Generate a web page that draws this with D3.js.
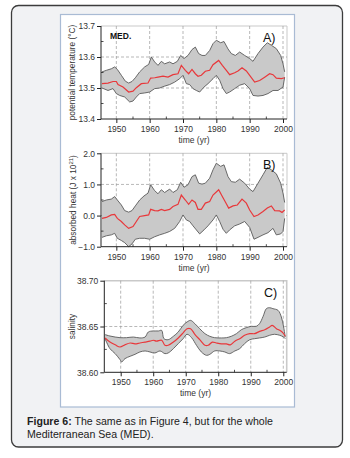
<!DOCTYPE html>
<html><head><meta charset="utf-8">
<script src="https://cdn.jsdelivr.net/npm/d3@7"></script>
<style>body{margin:0;background:#fff}svg{display:block;font-family:"Liberation Sans",Arial,sans-serif}</style>
</head><body><svg id="c" width="350" height="458"></svg>
<script>
// ---------- Panel A: potential temperature (°C) ----------
const tempMeanYears = [1945.7,1947.5,1949,1950,1950.5,1952,1953.7,1955,1956,1957.5,1959.5,1960.3,1961.5,1962.5,1964,1965.5,1967,1968.5,1969.5,1970.7,1971.7,1972.7,1973.7,1974.5,1975.5,1976.7,1978,1979,1980.7,1981.8,1983,1984,1985.5,1986.5,1987.7,1989,1990,1991.5,1993,1994.5,1996,1997,1998,1999.5,2000.5];
const tempMean = [13.514,13.516,13.521,13.521,13.511,13.503,13.487,13.49,13.501,13.514,13.516,13.532,13.533,13.535,13.538,13.535,13.543,13.546,13.573,13.557,13.546,13.56,13.546,13.538,13.541,13.554,13.557,13.575,13.589,13.573,13.557,13.543,13.549,13.555,13.565,13.555,13.541,13.519,13.524,13.535,13.546,13.543,13.532,13.53,13.533];
const tempUpperYears = [1945.7,1947,1948.5,1949.5,1950.3,1951.5,1952.7,1953.7,1954.7,1955.7,1957,1958.5,1959.7,1960.5,1961.5,1962.5,1963.5,1964.5,1966,1967,1968.3,1969.3,1970.3,1971.5,1972.7,1973.7,1974.7,1975.7,1976.7,1978,1979,1980,1981.3,1982.3,1983.5,1984.5,1985.7,1987,1988.5,1990,1991,1992.5,1994,1995.3,1996.5,1998,1999.3,2000,2000.5];
const tempUpper = [13.552,13.557,13.562,13.568,13.56,13.541,13.522,13.516,13.521,13.533,13.552,13.568,13.576,13.6,13.584,13.573,13.586,13.578,13.584,13.578,13.586,13.605,13.595,13.605,13.624,13.632,13.611,13.605,13.605,13.621,13.643,13.654,13.646,13.65,13.626,13.611,13.605,13.616,13.605,13.595,13.586,13.611,13.632,13.646,13.638,13.627,13.605,13.578,13.552];
const tempLowerYears = [1945.7,1947.5,1949,1950,1951,1952.5,1954,1955,1956,1957,1958.5,1960,1961.5,1963,1964.5,1966,1967.5,1969,1970,1971,1972,1973,1974,1975,1976.3,1977.5,1979,1980,1981,1982,1983,1984,1985.5,1987,1988.5,1990,1991,1992.5,1994,1995.5,1997,1998.5,2000,2000.5];
const tempLower = [13.5,13.492,13.498,13.482,13.476,13.471,13.455,13.458,13.471,13.482,13.484,13.487,13.498,13.5,13.506,13.511,13.519,13.53,13.541,13.514,13.511,13.498,13.492,13.487,13.503,13.514,13.53,13.541,13.525,13.498,13.482,13.487,13.498,13.509,13.514,13.498,13.476,13.474,13.476,13.482,13.492,13.492,13.503,13.535];
const tempTicks = [13.4,13.5,13.6,13.7];

// ---------- Panel B: absorbed heat (J x 10^21) ----------
const heatMeanYears = [1945.7,1947,1948.5,1949.5,1950.3,1951.5,1952.5,1953.7,1955,1956,1957,1958.5,1959.7,1960.3,1961.5,1962.5,1963.5,1964.5,1966,1967,1968.5,1969.5,1970.7,1971.7,1972.7,1973.7,1974.5,1975.5,1976.7,1978,1979,1980.7,1981.8,1983,1983.7,1985,1986.3,1987.7,1989,1990,1991.3,1992.5,1994,1995.3,1996.5,1997.5,1999,1999.7,2000.5];
const heatMean = [-0.09,-0.06,0.02,0.04,-0.09,-0.19,-0.30,-0.41,-0.35,-0.19,-0.03,0.0,0.02,0.20,0.16,0.15,0.20,0.16,0.20,0.29,0.36,0.66,0.50,0.36,0.50,0.42,0.20,0.20,0.40,0.45,0.66,0.83,0.61,0.38,0.24,0.31,0.34,0.53,0.40,0.18,-0.03,0.02,0.13,0.24,0.31,0.16,0.15,0.10,0.18];
const heatUpperYears = [1945.7,1947,1948.5,1949.5,1950.3,1951.5,1952.5,1953.7,1954.7,1955.7,1957,1958.3,1959.5,1960.3,1961.5,1962.5,1963.5,1964.5,1966,1967,1968.3,1969.3,1970.3,1971.5,1972.7,1973.7,1974.7,1975.7,1976.7,1978,1979,1980,1981.3,1982.3,1983.5,1984.5,1985.7,1987,1988.5,1990,1991,1992.5,1994,1995.3,1996.5,1998,1999.3,2000,2000.5];
const heatUpper = [0.45,0.50,0.53,0.61,0.50,0.34,0.16,0.11,0.16,0.31,0.50,0.63,0.72,0.99,0.80,0.70,0.83,0.74,0.85,0.74,0.83,1.07,0.91,0.99,1.25,1.31,1.04,1.01,1.04,1.20,1.47,1.68,1.58,1.63,1.25,1.09,1.07,1.17,1.04,0.85,0.77,1.04,1.31,1.55,1.47,1.34,1.04,0.72,0.42];
const heatLowerYears = [1945.7,1947,1948.5,1949.5,1950.3,1951.5,1952.5,1953.7,1954.7,1955.7,1957,1958.5,1960,1961.5,1963,1964.5,1966,1967.5,1969,1970,1971,1972,1973,1974,1975,1976.3,1977.5,1979,1980,1981,1982,1983,1984,1985.5,1987,1988.5,1990,1991.3,1992.5,1994,1995.5,1997,1998,1999.3,2000,2000.5];
const heatLower = [-0.70,-0.65,-0.62,-0.57,-0.73,-0.80,-0.87,-1.0,-0.91,-0.76,-0.73,-0.73,-0.76,-0.68,-0.62,-0.57,-0.51,-0.41,-0.19,0.02,-0.14,-0.19,-0.33,-0.46,-0.59,-0.46,-0.33,-0.14,0.02,-0.19,-0.44,-0.57,-0.46,-0.33,-0.27,-0.19,-0.38,-0.76,-0.70,-0.62,-0.55,-0.41,-0.62,-0.59,-0.51,-0.09];
const heatTicks = [-1.0,0.0,1.0,2.0];

// ---------- Panel C: salinity ----------
const saltMeanYears = [1945.2,1946.7,1948.3,1949.8,1951.3,1952.9,1954.4,1955.9,1957.5,1959.0,1960.0,1961.0,1962.6,1963.6,1964.6,1966.2,1967.7,1969.2,1970.4,1971.5,1972.8,1974.3,1975.9,1976.9,1978.2,1979.4,1981.0,1982.5,1983.7,1985.1,1986.6,1988.1,1989.7,1991.2,1992.7,1994.3,1995.8,1996.6,1997.9,1998.9,1999.9,2000.6];
const saltMean = [38.6375,38.633,38.630,38.6276,38.630,38.632,38.631,38.632,38.633,38.634,38.635,38.634,38.635,38.6295,38.6295,38.633,38.6375,38.643,38.6476,38.6476,38.6415,38.6356,38.6295,38.6295,38.633,38.632,38.631,38.631,38.630,38.634,38.6367,38.6404,38.6422,38.6422,38.6447,38.6465,38.6495,38.6513,38.6476,38.6458,38.643,38.6393];
const saltUpperYears = [1945.2,1946.7,1948.3,1949.8,1951.8,1953.9,1955.9,1957.5,1958.5,1960.0,1961.6,1962.6,1963.3,1964.6,1966.2,1967.7,1969.2,1970.4,1971.5,1972.8,1974.3,1975.9,1977.4,1978.9,1981.0,1982.5,1984.0,1985.6,1987.1,1988.6,1990.2,1991.7,1992.7,1993.8,1994.8,1995.8,1996.8,1998.4,1999.4,2000.1,2000.6];
const saltUpper = [38.6411,38.6396,38.6385,38.6378,38.6378,38.6385,38.6375,38.6385,38.644,38.6451,38.6451,38.6458,38.6367,38.6356,38.6393,38.644,38.6513,38.6549,38.6567,38.6531,38.6476,38.6422,38.6393,38.6378,38.6375,38.6378,38.6393,38.6422,38.6465,38.6487,38.6502,38.6502,38.6531,38.6611,38.6695,38.6705,38.6695,38.6676,38.6604,38.6495,38.6385];
const saltLowerYears = [1945.2,1946.7,1948.3,1949.8,1950.3,1951.3,1952.9,1954.4,1955.9,1957.5,1959.0,1960.5,1962.1,1963.6,1964.6,1966.2,1967.7,1969.2,1970.4,1971.8,1973.3,1974.8,1976.4,1977.4,1978.9,1980.5,1982.0,1983.5,1985.1,1986.6,1988.1,1989.7,1991.2,1992.7,1994.3,1995.8,1997.3,1998.9,2000.1,2000.6];
const saltLower = [38.6367,38.6258,38.6204,38.6138,38.6113,38.6149,38.6175,38.6196,38.6222,38.6233,38.6222,38.6211,38.6233,38.6204,38.6211,38.6258,38.6313,38.6367,38.6415,38.6378,38.6295,38.6222,38.6185,38.6196,38.6233,38.6233,38.6222,38.6204,38.6233,38.6258,38.6313,38.6356,38.6367,38.6375,38.6385,38.6404,38.6415,38.6404,38.6385,38.6367];
const saltTicks = [38.60,38.65,38.70];

const decadeTicks = [1950,1960,1970,1980,1990,2000];
const minorYearTicks = [1945,1955,1965,1975,1985,1995];
const captionBold = "Figure 6:";
const captionLine1 = " The same as in Figure 4, but for the whole";
const captionLine2 = "Mediterranean Sea (MED).";

const svg = d3.select('#c');
svg.append('rect').attr('x',11.5).attr('y',5.5).attr('width',331).attr('height',441.5).attr('rx',7)
  .attr('fill','#f1f2f4').attr('stroke','#3c3c3c').attr('stroke-width',1.3);
svg.append('rect').attr('x',60.5).attr('y',14.5).attr('width',234).attr('height',392.5)
  .attr('fill','#fff').attr('stroke','#a9bbd4').attr('stroke-width',1.2);

function zip(xs, ys){ return xs.map((d,i)=>[d, ys[i]]); }

function panel(c){
  const g = svg.append('g');
  const x = d3.scaleLinear().domain(c.xDomain).range([c.left, c.right]);
  const y = d3.scaleLinear().domain(c.yDomain).range([c.bottom, c.top]);
  g.append('path').attr('d',`M${c.left},${c.top}H${c.right}V${c.bottom}`)
    .attr('fill','none').attr('stroke','#c9c9c9').attr('stroke-width',c.topW||1);
  g.selectAll('.vg').data(decadeTicks).enter().append('line')
    .attr('x1',d=>x(d)).attr('x2',d=>x(d)).attr('y1',c.top).attr('y2',c.bottom)
    .attr('stroke','#9a9a9a').attr('stroke-width',0.7).attr('stroke-dasharray','3,2');
  g.selectAll('.hg').data(c.gridY).enter().append('line')
    .attr('x1',c.left).attr('x2',c.right).attr('y1',d=>y(d)).attr('y2',d=>y(d))
    .attr('stroke','#9a9a9a').attr('stroke-width',0.7).attr('stroke-dasharray','3,2');
  const lineGen = d3.line().x(d=>x(d[0])).y(d=>y(d[1])).curve(c.curve);
  const up = zip(c.upYears, c.up), lo = zip(c.loYears, c.lo);
  const poly = up.concat(lo.slice().reverse());
  g.append('path').attr('d', d3.line().x(d=>x(d[0])).y(d=>y(d[1])).curve(c.curveClosed)(poly))
    .attr('fill','#c9c9c9').attr('stroke','none');
  g.append('path').attr('d', lineGen(up)).attr('fill','none').attr('stroke','#5a5a5a').attr('stroke-width',0.9);
  g.append('path').attr('d', lineGen(lo)).attr('fill','none').attr('stroke','#5a5a5a').attr('stroke-width',0.9);
  g.append('path').attr('d', lineGen(zip(c.meanYears, c.mean))).attr('fill','none')
    .attr('stroke','#e8383b').attr('stroke-width',1.2);
  const ax = g.append('g').attr('transform',`translate(0,${c.bottom})`)
    .call(d3.axisBottom(x).tickValues(decadeTicks).tickFormat(d3.format('d')).tickSize(4).tickPadding(3));
  ax.select('.domain').attr('stroke','#222').attr('d',`M${c.left},0H${c.right}`);
  ax.selectAll('.tick line').attr('stroke','#222');
  ax.selectAll('text').attr('font-size',8.5).attr('fill','#333').attr('font-family','Liberation Sans, Arial, sans-serif');
  g.selectAll('.mx').data(minorYearTicks.filter(d=>x(d)>c.left+1)).enter().append('line')
    .attr('x1',d=>x(d)).attr('x2',d=>x(d)).attr('y1',c.bottom).attr('y2',c.bottom-2.5).attr('stroke','#222').attr('stroke-width',0.8);
  const ay = g.append('g').attr('transform',`translate(${c.left},0)`)
    .call(d3.axisLeft(y).tickValues(c.yTicks).tickFormat(c.yFmt).tickSize(4).tickPadding(2));
  ay.select('.domain').attr('stroke','#222').attr('d',`M0,${c.top}V${c.bottom}`);
  ay.selectAll('.tick line').attr('stroke','#222');
  ay.selectAll('text').attr('font-size',8.5).attr('fill','#333').attr('font-family','Liberation Sans, Arial, sans-serif');
  g.selectAll('.my').data(c.yMinor).enter().append('line')
    .attr('x1',c.left).attr('x2',c.left+2.5).attr('y1',d=>y(d)).attr('y2',d=>y(d)).attr('stroke','#222').attr('stroke-width',0.8);
  g.append('text').attr('x',(c.left+c.right)/2).attr('y',c.bottom+24).attr('text-anchor','middle')
    .attr('font-size',8.5).attr('fill','#333').text('time (yr)');
  const yt = g.append('text').attr('transform',`translate(${c.ytX},${(c.top+c.bottom)/2}) rotate(-90)`)
    .attr('text-anchor','middle').attr('font-size',8.3).attr('fill','#333');
  c.ytitle(yt);
  g.append('text').attr('x',c.letterX).attr('y',c.top+16).attr('font-size',12.5).attr('fill','#111').text(c.letter);
  return g;
}

const pA = panel({left:101,right:287,top:26,bottom:119,xDomain:[1945.4,2001.2],yDomain:[13.4,13.7],
  yTicks:tempTicks,yMinor:[13.45,13.55,13.65],yFmt:d3.format('.1f'),gridY:[13.5,13.6],
  upYears:tempUpperYears,up:tempUpper,loYears:tempLowerYears,lo:tempLower,meanYears:tempMeanYears,mean:tempMean,
  curve:d3.curveLinear,curveClosed:d3.curveLinearClosed,letter:'A)',letterX:263,ytX:75,
  ytitle:t=>{t.text('potential temperature (°C)');}});
pA.append('text').attr('x',110).attr('y',39).attr('font-size',8.5).attr('font-weight','bold').attr('fill','#111').text('MED.');

panel({left:101,right:287,top:153.3,bottom:246.7,xDomain:[1945.4,2001.2],yDomain:[-1,2],
  yTicks:heatTicks,yMinor:[-0.5,0.5,1.5],yFmt:d3.format('.1f'),gridY:[0,1],
  upYears:heatUpperYears,up:heatUpper,loYears:heatLowerYears,lo:heatLower,meanYears:heatMeanYears,mean:heatMean,
  curve:d3.curveLinear,curveClosed:d3.curveLinearClosed,letter:'B)',letterX:263,ytX:76,
  ytitle:t=>{t.append('tspan').text('absorbed heat (J x 10');
    t.append('tspan').attr('font-size',6).attr('dy',-3).text('21');
    t.append('tspan').attr('dy',3).text(')');}});

panel({left:104.3,right:286.7,top:280.7,bottom:372.3,xDomain:[1944.96,2001.05],yDomain:[38.60,38.70],
  yTicks:saltTicks,yMinor:[38.625,38.675],yFmt:d3.format('.2f'),gridY:[38.65],topW:1.6,
  upYears:saltUpperYears,up:saltUpper,loYears:saltLowerYears,lo:saltLower,meanYears:saltMeanYears,mean:saltMean,
  curve:d3.curveCatmullRom,curveClosed:d3.curveCatmullRomClosed,letter:'C)',letterX:264,ytX:75,
  ytitle:t=>{t.text('salinity');}});

const cap = svg.append('text').attr('x',27).attr('y',425).attr('font-size',10.6).attr('fill','#222');
cap.append('tspan').attr('font-weight','bold').text(captionBold);
cap.append('tspan').text(captionLine1);
svg.append('text').attr('x',27).attr('y',437.5).attr('font-size',10.6).attr('fill','#222').text(captionLine2);
</script></body></html>
